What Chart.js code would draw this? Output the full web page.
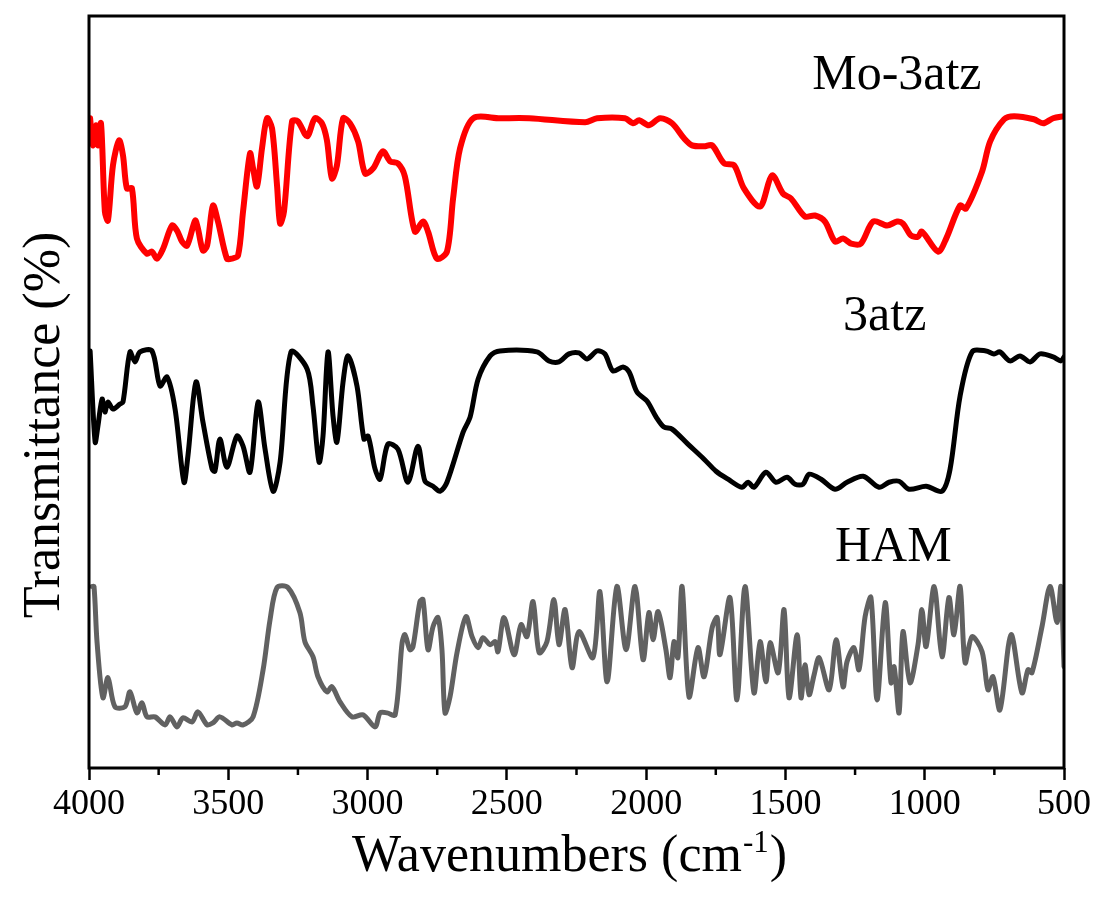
<!DOCTYPE html>
<html><head><meta charset="utf-8">
<script src="https://cdn.jsdelivr.net/npm/chart.js@4.4.0/dist/chart.umd.min.js"></script>
<style>html,body{margin:0;padding:0;background:#fff}#wrap{width:1104px;height:902px;position:relative}</style>
</head><body><div id="wrap"><canvas id="c"></canvas></div>
<script>
// ---- data (wavenumber in cm-1, transmittance in arbitrary offset units) ----
const xTickValues = [4000,3500,3000,2500,2000,1500,1000,500];
const seriesNames = ['Mo-3atz','3atz','HAM'];

const wnMo = [3996,3986,3975,3968,3957,3943,3932,3914,3892,3878,3864,3846,3828,3792,3774,3756,3734,3702,3684,3666,3648,3619,3609,3591,3576,3555,3537,3505,3487,3465,3447,3422,3411,3397,3379,3361,3343,3325,3314,3300,3271,3250,3217,3189,3164,3146,3128,3110,3088,3063,3034,3009,2980,2945,2919,2891,2866,2830,2801,2783,2751,2715,2693,2668,2621,2525,
2420,2219,2176,2076,2047,2025,1990,1950,1907,1864,1835,1792,1763,1720,1684,1649,1591,1548,1509,1480,1430,1394,1358,1322,1293,1264,1229,1185,1135,1099,1078,1049,1024,1010,952,923,873,852,794,765,715,679,608,575,539,500];
const tMo = [129.6,124.2,128.2,124.2,128.6,111,109.2,120.2,125.2,122.2,115.6,115.6,105.6,102.6,103,101.6,103.6,108.2,107.2,105,104.2,109.2,107.6,103.2,104.2,112.2,109,101.6,101.6,102.2,111,122.6,119.6,116,123.6,129.6,127.6,116.2,108.6,111,129,129,126,129.6,128.6,125.2,117.6,120.2,129.6,128.6,125,118.6,119.6,123,121,120.6,118,107,109,107,101.6,103,113.6,123.6,129.6,129.6,
129.6,128.8,129.6,129.6,128.6,129.2,128.2,129.6,128.6,125.6,124.2,124,124.2,120.6,120.2,115.6,112,118.2,114.6,113.6,110,110.2,109,105,105.6,104.6,104.6,109,108.2,109,108.6,106.2,106,107,103,105.6,112.2,111.6,119,125,129.4,130,129.4,128.6,129.6,130];

const wn3atz = [3996,3978,3968,3953,3943,3932,3914,3889,3878,3853,3835,3817,3774,3745,3720,3691,3659,3645,3616,3591,3558,3548,3530,3505,3469,3447,3422,3393,3368,3339,3314,3275,3217,3196,3174,3160,3142,3124,3110,3088,3070,3038,3013,2998,2973,2955,2927,2891,2855,2819,2794,2765,2740,2715,2657,2632,2603,2560,2525,
2392,2349,2313,2277,2241,2212,2176,2148,2119,2083,2061,2033,1997,1964,1936,1907,1850,1792,1749,1706,1656,1634,1613,1570,1534,1494,1465,1437,1415,1372,1322,1279,1221,1164,1128,1092,1056,995,938,909,873,830,780,751,730,694,658,622,586,539,511,500];
const t3atz = [83.2,65,68.2,73.6,71,73,71.6,72.6,73,83,81,83,83.2,76.2,78,71.6,57,62.2,77,69,59.6,59.2,65.6,60,66.2,64.2,59,73,63.6,55.2,61,83,79.6,72.2,61,66.2,83,70.2,65,77,82.2,76.2,65.6,66.2,59.6,57.6,64.6,63.6,57,64.2,57.2,56.2,55.2,57,67,70,77.6,82.2,83.2,
83,81.2,81,82.6,82.8,81.6,83.2,82.6,79.2,80,79,75,73.2,70,68,67.6,64.6,61.6,59.2,57.6,56,57,56,59,57,58,56.6,56.6,58.6,57.6,55.6,57,58.2,56,57,57.2,55.6,56.2,55.2,59.6,74.2,83,83.2,82.6,83,81.2,82.2,81,82.6,82,81.2,82];

const wnHAM = [3989,3982,3971,3950,3932,3907,3871,3853,3828,3810,3792,3763,3727,3709,3684,3663,3630,3609,3576,3555,3530,3487,3469,3447,3411,3375,3350,3325,3286,3243,3225,3196,3178,3146,3128,3099,3056,3016,2973,2955,2930,2901,2876,2866,2848,2837,2812,2801,2783,2765,2747,2733,2722,2704,2679,2647,2625,2603,2586,2560,2542,
2532,2510,2474,2449,2428,2406,2384,2356,2331,2313,2291,2266,2241,2191,2166,2140,2105,2072,2040,2011,1990,1975,1957,1929,1914,1900,1886,1871,1846,1814,1792,1763,1745,1735,1699,1674,1645,1613,1591,1570,1555,1526,1505,1487,1458,1444,1430,1415,1397,1379,1343,1318,1293,1279,1254,1236,1214,1193,1171,1142,1121,1110,1092,1078,1053,1024,1010,995,966,938,913,895,873,855,830,794,773,755,730,690,651,629,615,579,550,525,511,500];
const tHAM = [36.2,36.2,25,14,18,12.2,12.2,15.2,11,13,10.2,10.2,8.6,10.2,8.2,10,9.2,11.2,8.6,9,10.2,8.6,9,8.6,10.2,19.6,29.6,36,36,31,25.2,22.2,18.2,15.2,16.2,13.2,10.2,10.6,8.2,11,11,10.6,25,26.6,23.6,24.2,33.2,33.6,23.6,28.2,30,23.6,11,14.2,23,30.2,26.2,24,26,24.6,25.2,
23.2,30,22.6,28.6,26.2,33.2,23,25.2,33.6,24.6,31.6,20,27.2,22,35.2,17.2,36.2,23.6,36.2,21.6,31,25.6,31.2,23.6,18,25.2,22,36.2,14.2,24,18.2,28,30,22.6,34,13.6,36.2,15,25.2,17.2,25,19,31.6,14,26.6,14,20.6,14.6,18.6,22,15.6,25.6,16.2,21.2,24,19.6,30.2,34,13.6,33,17,20.2,11,27.2,17,24.6,31.6,24.2,36.2,22.2,34,26.6,36.2,21,26.2,23.2,15.6,18.2,11.6,26.6,15,19.6,19,28.2,36.2,29,36.2,20.2];

// label anchor positions in data units (wavenumber, transmittance)
const seriesLabelAt = [[1404,138],[1293,90],[1322,44]];

// ---- build ----
const zip = (xs, ys) => xs.map((x, i) => ({x: x, y: ys[i]}));
const SERIF = "'Liberation Serif','Times New Roman',serif";

const framePlugin = {
  id: 'frameAndText',
  afterDraw(chart) {
    const {ctx, chartArea: a, scales} = chart;
    const xs = scales.x, ys = scales.y;
    ctx.save();
    // frame
    ctx.strokeStyle = '#000';
    ctx.lineWidth = 3;
    ctx.strokeRect(a.left, a.top, a.right - a.left, a.bottom - a.top);
    // minor ticks
    ctx.lineWidth = 2.5;
    for (let v = 750; v < 4000; v += 500) {
      const px = xs.getPixelForValue(v);
      ctx.beginPath(); ctx.moveTo(px, a.bottom); ctx.lineTo(px, a.bottom + 7); ctx.stroke();
    }
    // series labels
    ctx.fillStyle = '#000';
    ctx.font = '50px ' + SERIF;
    ctx.textBaseline = 'middle';
    ctx.textAlign = 'left';
    seriesNames.forEach((n, i) => {
      ctx.fillText(n, xs.getPixelForValue(seriesLabelAt[i][0]), ys.getPixelForValue(seriesLabelAt[i][1]));
    });
    // x axis title with superscript
    ctx.textBaseline = 'alphabetic';
    const big = '52px ' + SERIF, small = '31px ' + SERIF;
    const p1 = 'Wavenumbers (cm', p2 = '-1', p3 = ')';
    ctx.font = big; const w1 = ctx.measureText(p1).width, w3 = ctx.measureText(p3).width;
    ctx.font = small; const w2 = ctx.measureText(p2).width;
    const total = w1 + w2 + w3 + 2;
    let sx = (a.left + a.right) / 2 - 7 - total / 2;
    const by = a.bottom + 103;
    ctx.font = big; ctx.fillText(p1, sx, by);
    ctx.font = small; ctx.fillText(p2, sx + w1 + 1, by - 19);
    ctx.font = big; ctx.fillText(p3, sx + w1 + w2 + 2, by);
    // y axis title
    ctx.translate(a.left - 30, (a.top + a.bottom) / 2 + 33);
    ctx.rotate(-Math.PI / 2);
    ctx.textAlign = 'center';
    ctx.textBaseline = 'alphabetic';
    ctx.font = big;
    ctx.fillText('Transmittance (%)', 0, 0);
    ctx.restore();
  }
};

new Chart(document.getElementById('c'), {
  type: 'line',
  data: {
    datasets: [
      {label: seriesNames[0], data: zip(wnMo, tMo), borderColor: '#ff0000', borderWidth: 6},
      {label: seriesNames[1], data: zip(wn3atz, t3atz), borderColor: '#000000', borderWidth: 5},
      {label: seriesNames[2], data: zip(wnHAM, tHAM), borderColor: '#616161', borderWidth: 5}
    ]
  },
  options: {
    responsive: true,
    maintainAspectRatio: false,
    animation: false,
    events: [],
    layout: {padding: {left: 0, top: 16, right: 40, bottom: 0}},
    elements: {point: {radius: 0}, line: {tension: 0.3, borderCapStyle: 'round', borderJoinStyle: 'round'}},
    plugins: {legend: {display: false}, tooltip: {enabled: false}},
    scales: {
      x: {
        type: 'linear', reverse: true, min: 500, max: 4000,
        afterFit: s => { s.height = 134; },
        afterBuildTicks: s => { s.ticks = xTickValues.map(v => ({value: v})); },
        ticks: {autoSkip: false, maxRotation: 0, padding: 3, color: '#000',
          font: {family: SERIF, size: 36}, callback: v => String(v)},
        grid: {display: true, drawOnChartArea: false, drawTicks: true, tickLength: 12, tickWidth: 2.5, tickColor: '#000'},
        border: {display: false}
      },
      y: {
        type: 'linear', min: 0, max: 150,
        afterFit: s => { s.width = 89; },
        ticks: {display: false},
        grid: {display: false, drawTicks: false},
        border: {display: false}
      }
    }
  },
  plugins: [framePlugin]
});
</script>
</body></html>
